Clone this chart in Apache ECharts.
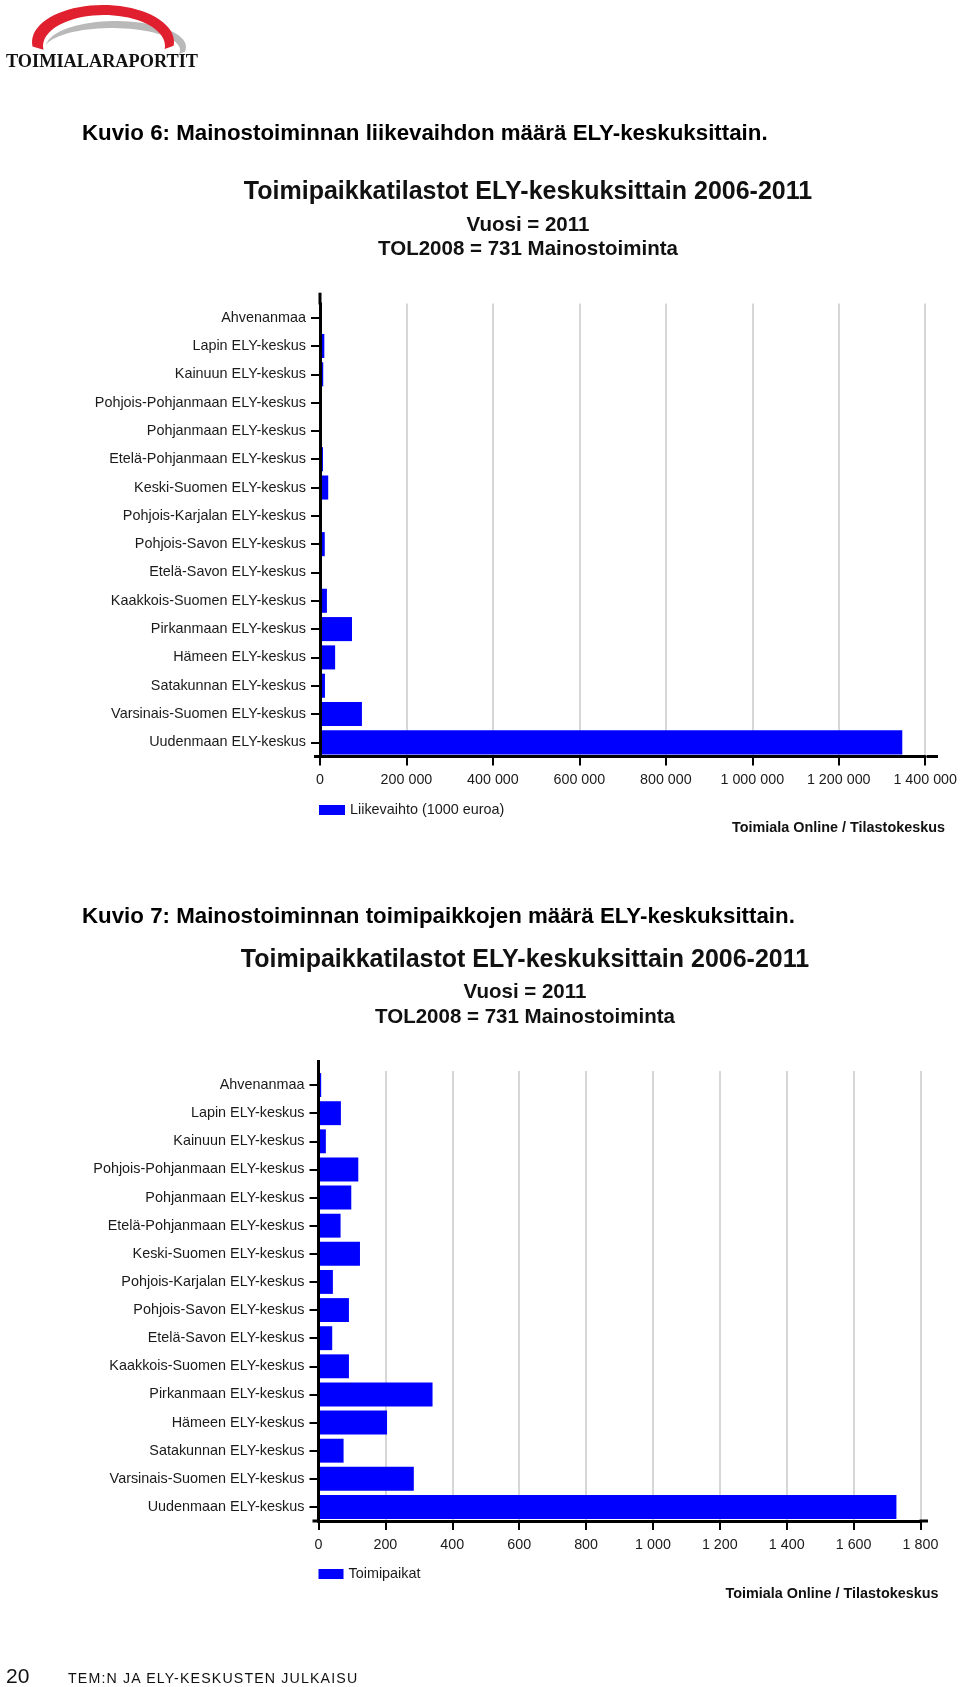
<!DOCTYPE html>
<html>
<head>
<meta charset="utf-8">
<script src="https://cdn.jsdelivr.net/npm/echarts@6/dist/echarts.min.js"></script>
<style>
html,body{margin:0;padding:0;background:#fff;}
#page{position:relative;width:960px;height:1687px;overflow:hidden;}
#chart{position:absolute;left:0;top:0;width:960px;height:1687px;}
.ft{position:absolute;font-family:"Liberation Sans",Arial,sans-serif;color:#111;white-space:nowrap;}
</style>
</head>
<body>
<div id="page">
<div id="chart"></div>
<div class="ft" style="left:6px;top:1664px;font-size:21px;line-height:24px;">20</div>
<div class="ft" style="left:68px;top:1670px;font-size:14.2px;line-height:16px;letter-spacing:1.15px;">TEM:N JA ELY-KESKUSTEN JULKAISU</div>
</div>
<script>
// ---------- data ----------
const categories = ['Ahvenanmaa','Lapin ELY-keskus','Kainuun ELY-keskus','Pohjois-Pohjanmaan ELY-keskus','Pohjanmaan ELY-keskus','Etelä-Pohjanmaan ELY-keskus','Keski-Suomen ELY-keskus','Pohjois-Karjalan ELY-keskus','Pohjois-Savon ELY-keskus','Etelä-Savon ELY-keskus','Kaakkois-Suomen ELY-keskus','Pirkanmaan ELY-keskus','Hämeen ELY-keskus','Satakunnan ELY-keskus','Varsinais-Suomen ELY-keskus','Uudenmaan ELY-keskus'];
const turnover = [0, 10000, 7500, 0, 0, 7000, 19000, 0, 11000, 0, 16000, 74000, 35000, 11500, 97000, 1347000];
const establishments = [8, 67, 22, 119, 98, 66, 124, 43, 91, 41, 91, 341, 205, 75, 285, 1728];
const series1Name = 'Liikevaihto (1000 euroa)';
const series2Name = 'Toimipaikat';
const caption1 = 'Kuvio 6: Mainostoiminnan liikevaihdon määrä ELY-keskuksittain.';
const caption2 = 'Kuvio 7: Mainostoiminnan toimipaikkojen määrä ELY-keskuksittain.';
const chartTitle = 'Toimipaikkatilastot ELY-keskuksittain 2006-2011';
const sub1 = 'Vuosi = 2011';
const sub2 = 'TOL2008 = 731 Mainostoiminta';
const source = 'Toimiala Online / Tilastokeskus';
const logoText = 'TOIMIALARAPORTIT';
const axis1 = {min: 0, max: 1400000, interval: 200000};
const axis2 = {min: 0, max: 1800, interval: 200};

// ---------- layout ----------
const FONT = '"Liberation Sans", Arial, sans-serif';
const G1 = {left: 320, right: 32.3, top: 303.5, height: 453};
const G2 = {left: 318.5, right: 39.5, top: 1071, height: 450};
const BLUE = '#0000ff';

function fmt(v){ return String(v).replace(/\B(?=(\d{3})+(?!\d))/g, ' '); }

function txt(text, x, y, font, align, color){
  return {type:'text', silent:true, z:10,
    style:{text:text, x:x, y:y, font:font, fill:color||'#111',
      align:align||'left', verticalAlign:'middle',
      textAlign:align||'left', textVerticalAlign:'middle'}};
}
function line(x1,y1,x2,y2,w){
  return {type:'line', silent:true, z:10, shape:{x1:x1,y1:y1,x2:x2,y2:y2}, style:{stroke:'#000', lineWidth:w||3}};
}

// logo shapes
function crescent(c1, r1, c2, r2, t0, t1){
  const pts = [];
  const n = 40;
  for (let i=0;i<=n;i++){ const t=t0+(t1-t0)*i/n; pts.push([c1[0]+r1[0]*Math.cos(t), c1[1]-r1[1]*Math.sin(t)]); }
  for (let i=n;i>=0;i--){ const t=t0+(t1-t0)*i/n; pts.push([c2[0]+r2[0]*Math.cos(t), c2[1]-r2[1]*Math.sin(t)]); }
  return pts;
}
const grayPts = crescent([116,47],[70,26],[112,50],[68,22], -0.18, 2.95);
const redPts = crescent([103,42],[71,37],[104,46],[61,31], -0.1, Math.PI+0.12);

function makeX(ax, gridIndex){
  return {
    type:'value', gridIndex:gridIndex, min:ax.min, max:ax.max, interval:ax.interval,
    z:0,
    axisLine:{show:true, lineStyle:{color:'#000', width:3}},
    axisTick:{show:true, length:9, lineStyle:{color:'#000', width:2}},
    axisLabel:{margin:17, fontFamily:FONT, fontSize:14.3, color:'#1a1a1a', formatter:fmt},
    splitLine:{show:true, lineStyle:{color:'#cdcdcd', width:1.6}}
  };
}
function makeY(gridIndex){
  return {
    type:'category', gridIndex:gridIndex, data:categories, inverse:true, z:5,
    axisLine:{show:true, lineStyle:{color:'#000', width:3}},
    axisTick:{show:true, alignWithLabel:true, length:9, lineStyle:{color:'#000', width:2}},
    axisLabel:{margin:14, fontFamily:FONT, fontSize:14.4, color:'#1a1a1a'},
    splitLine:{show:false}
  };
}

const g1Bottom = G1.top + G1.height, g1Right = 960 - G1.right;
const g2Bottom = G2.top + G2.height, g2Right = 960 - G2.right;

const option = {
  animation:false,
  backgroundColor:'#ffffff',
  grid:[
    {left:G1.left, right:G1.right, top:G1.top, height:G1.height, containLabel:false},
    {left:G2.left, right:G2.right, top:G2.top, height:G2.height, containLabel:false}
  ],
  xAxis:[makeX(axis1,0), makeX(axis2,1)],
  yAxis:[makeY(0), makeY(1)],
  legend:[
    {data:[series1Name], left:319, top:803, padding:0, icon:'rect', itemWidth:26, itemHeight:10,
     textStyle:{fontFamily:FONT, fontSize:14.4, color:'#1a1a1a'}, selectedMode:false},
    {data:[series2Name], left:318.5, top:1567, padding:0, icon:'rect', itemWidth:25, itemHeight:10,
     textStyle:{fontFamily:FONT, fontSize:14.4, color:'#1a1a1a'}, selectedMode:false}
  ],
  series:[
    {type:'bar', name:series1Name, xAxisIndex:0, yAxisIndex:0, data:turnover, barCategoryGap:'15%',
     itemStyle:{color:BLUE}, z:2},
    {type:'bar', name:series2Name, xAxisIndex:1, yAxisIndex:1, data:establishments, barCategoryGap:'15%',
     itemStyle:{color:BLUE}, z:2}
  ],
  graphic:[
    {type:'polygon', silent:true, shape:{points:grayPts}, style:{fill:'#b9b9b9'}},
    {type:'polygon', silent:true, shape:{points:redPts}, style:{fill:'#e0202e'}},
    txt(logoText, 6, 62, 'bold 18.3px "Liberation Serif", "Times New Roman", serif', 'left', '#111'),

    txt(caption1, 82, 133.5, 'bold 22.3px ' + FONT, 'left', '#000'),
    txt(chartTitle, 528, 192, 'bold 25px ' + FONT, 'center', '#111'),
    txt(sub1, 528, 225, 'bold 20.5px ' + FONT, 'center', '#111'),
    txt(sub2, 528, 249.5, 'bold 20.5px ' + FONT, 'center', '#111'),
    txt(source, 945, 828, 'bold 14.4px ' + FONT, 'right', '#111'),
    line(G1.left, 292.7, G1.left, G1.top + 1, 3),
    line(G1.left - 6, g1Bottom, G1.left + 1, g1Bottom, 3),
    line(g1Right - 1, g1Bottom, 938, g1Bottom, 3),

    txt(caption2, 82, 917, 'bold 22.3px ' + FONT, 'left', '#000'),
    txt(chartTitle, 525, 960, 'bold 25px ' + FONT, 'center', '#111'),
    txt(sub1, 525, 992, 'bold 20.5px ' + FONT, 'center', '#111'),
    txt(sub2, 525, 1017.5, 'bold 20.5px ' + FONT, 'center', '#111'),
    txt(source, 938.5, 1594, 'bold 14.4px ' + FONT, 'right', '#111'),
    line(G2.left, 1060, G2.left, G2.top + 1, 3),
    line(G2.left - 6, g2Bottom, G2.left + 1, g2Bottom, 3),
    line(g2Right - 1, g2Bottom, 928, g2Bottom, 3)
  ]
};

const chart = echarts.init(document.getElementById('chart'), null, {renderer:'canvas', width:960, height:1687});
chart.setOption(option);
</script>
</body>
</html>
